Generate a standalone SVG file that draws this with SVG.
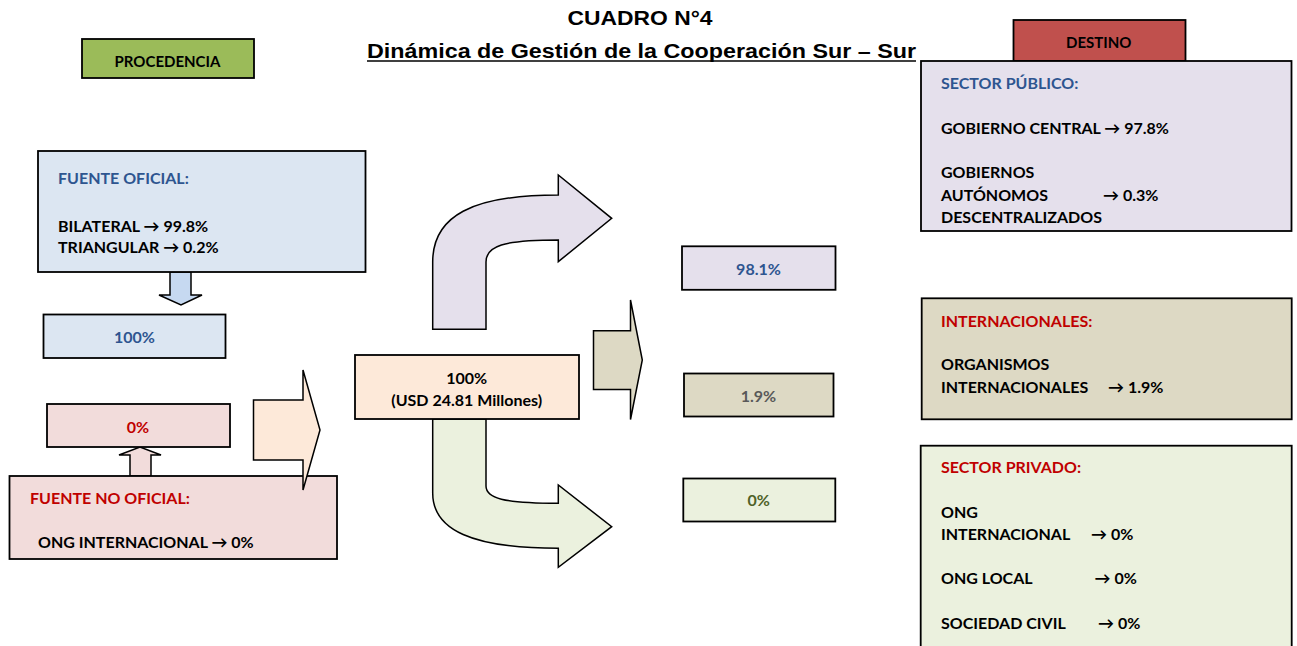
<svg xmlns="http://www.w3.org/2000/svg" width="1297" height="646" viewBox="0 0 1297 646">
<style>
.box{stroke:#000;stroke-width:1.8}
.arr{stroke:#000;stroke-width:1.5;stroke-linejoin:miter}
text{font-family:Lato,"Liberation Sans",sans-serif;font-weight:bold;font-size:16px;fill:#000}
.c{text-anchor:middle}
.blue{fill:#2e5590}
.red{fill:#c00000}
.title{font-family:"Liberation Sans",Arial,sans-serif;font-size:20px;text-anchor:middle}
.hdr{font-size:15px}
</style>
<rect width="1297" height="646" fill="#fff"/>

<g id="title">
<text class="title" x="640" y="25" textLength="145" lengthAdjust="spacingAndGlyphs">CUADRO N°4</text>
<text class="title" x="641.5" y="58" textLength="549" lengthAdjust="spacingAndGlyphs">Dinámica de Gestión de la Cooperación Sur – Sur</text>
<line x1="367" y1="61" x2="916" y2="61" stroke="#000" stroke-width="1.6"/>
</g>

<g id="procedencia">
<rect class="box" x="82" y="39" width="172" height="39" fill="#9bbb59"/>
<text class="c hdr" x="167.5" y="67">PROCEDENCIA</text>
</g>

<g id="connectors">
<path class="arr" fill="#c6d9f1" d="M170,272 L191,272 L191,295 L202,295 L181,305 L159,295 L170,295 Z"/>
<path class="arr" fill="#f2dcdb" d="M130,476 L130,455 L119,455 L140,447 L161,455 L151,455 L151,476 Z"/>
<path class="arr" fill="#e5e0ec" d="M432.7,329.3 L432.7,262 C432.7,216 472,195 558.3,195 L558.3,175 L611.7,218.3 L558.3,261.7 L558.3,240 C503,240 486,246 486,262 L486,329.3 Z"/>
<path class="arr" fill="#ebf1de" d="M432.7,419 L432.7,493 C432.7,530 472,548.3 558.3,548.3 L558.3,567.3 L611.7,526.7 L558.3,485 L558.3,503.3 C503,503.3 486,498 486,486 L486,419 Z"/>
<path class="arr" fill="#ddd9c4" d="M593.5,330.7 L630.5,330.7 L630.5,300 L642.3,360 L630.5,419.5 L630.5,389.5 L593.5,389.5 Z"/>
</g>

<g id="fuente-oficial">
<rect class="box" x="38" y="151" width="327.5" height="121" fill="#dce6f2"/>
<text class="blue" x="58" y="183.5">FUENTE OFICIAL:</text>
<text x="58" y="231.5">BILATERAL → 99.8%</text>
<text x="58" y="253">TRIANGULAR → 0.2%</text>
</g>

<g id="oficial-total">
<rect class="box" x="43.5" y="314.5" width="182" height="43.5" fill="#dce6f2"/>
<text class="c blue" x="134.5" y="342.5">100%</text>
</g>

<g id="no-oficial-total">
<rect class="box" x="47" y="404" width="183" height="43" fill="#f2dcdb"/>
<text class="c red" x="138" y="432.5">0%</text>
</g>

<g id="fuente-no-oficial">
<rect class="box" x="9.5" y="476" width="327.5" height="83" fill="#f2dcdb"/>
<text class="red" x="30" y="504">FUENTE NO OFICIAL:</text>
<text x="38" y="548">ONG INTERNACIONAL → 0%</text>
</g>

<g id="peach-arrow">
<path class="arr" fill="#fde9d9" d="M253.5,400 L303,400 L303,370 L320,430 L303,490 L303,460 L253.5,460 Z"/>
</g>

<g id="total">
<rect class="box" x="355" y="355" width="224" height="64" fill="#fde9d9"/>
<text class="c" x="466.7" y="384">100%</text>
<text class="c" x="466.7" y="406">(USD 24.81 Millones)</text>
</g>

<g id="pct-publico">
<rect class="box" x="682" y="246.3" width="153.5" height="43.5" fill="#e5e0ec"/>
<text class="c blue" x="758.5" y="274.5">98.1%</text>
</g>
<g id="pct-internacional">
<rect class="box" x="684" y="373.5" width="149.5" height="43" fill="#ddd9c4"/>
<text class="c" x="758.5" y="401.5" style="fill:#595959">1.9%</text>
</g>
<g id="pct-privado">
<rect class="box" x="683.3" y="478.5" width="152" height="43" fill="#ebf1de"/>
<text class="c" x="758.8" y="506" style="fill:#4f6228">0%</text>
</g>

<g id="destino">
<rect class="box" x="1013.5" y="20" width="172" height="41" fill="#c0504d"/>
<text class="c hdr" x="1098.7" y="47.5">DESTINO</text>
</g>

<g id="sector-publico">
<rect class="box" x="921" y="61" width="370.5" height="170" fill="#e5e0ec"/>
<text class="blue" x="941" y="89">SECTOR PÚBLICO:</text>
<text x="941" y="133.5">GOBIERNO CENTRAL → 97.8%</text>
<text x="941" y="178">GOBIERNOS</text>
<text x="941" y="200.5">AUTÓNOMOS</text>
<text x="1103" y="200.5">→ 0.3%</text>
<text x="941" y="222.5">DESCENTRALIZADOS</text>
</g>

<g id="internacionales">
<rect class="box" x="921.7" y="298.3" width="370" height="121" fill="#ddd9c4"/>
<text class="red" x="941" y="326.5">INTERNACIONALES:</text>
<text x="941" y="370">ORGANISMOS</text>
<text x="941" y="392.5">INTERNACIONALES</text>
<text x="1108" y="392.5">→ 1.9%</text>
</g>

<g id="sector-privado">
<rect class="box" x="920.7" y="445.7" width="371" height="215" fill="#ebf1de"/>
<text class="red" x="941" y="473">SECTOR PRIVADO:</text>
<text x="941" y="517.5">ONG</text>
<text x="941" y="540">INTERNACIONAL</text>
<text x="1091" y="540">→ 0%</text>
<text x="941" y="584">ONG LOCAL</text>
<text x="1094.5" y="584">→ 0%</text>
<text x="941" y="629">SOCIEDAD CIVIL</text>
<text x="1098" y="629">→ 0%</text>
</g>
</svg>
